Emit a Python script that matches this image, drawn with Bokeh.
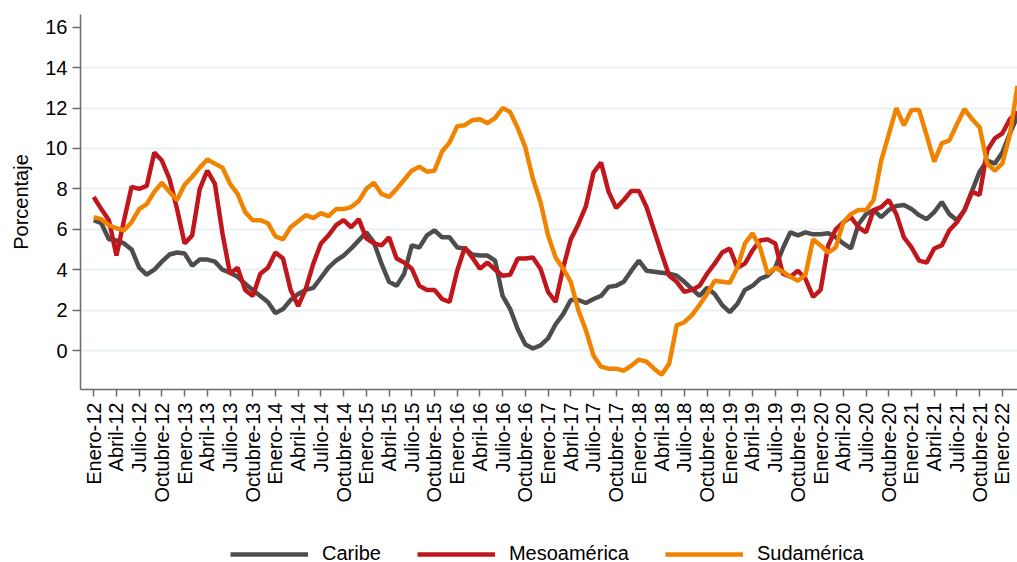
import math
from bokeh.plotting import figure
from bokeh.layouts import column
from bokeh.models import Range1d, FixedTicker, Legend, LegendItem, ColumnDataSource
from bokeh.embed import file_html
from bokeh.resources import INLINE

meses = ["Enero", "Abril", "Julio", "Octubre"]
years = list(range(12, 23))

caribe = [6.45, 6.3, 5.5, 5.45, 5.3, 5.0, 4.1, 3.75, 4.0, 4.4, 4.75, 4.85,
          4.8, 4.2, 4.5, 4.5, 4.4, 4.0, 3.85, 3.65, 3.3, 3.0, 2.7, 2.4,
          1.85, 2.05, 2.5, 2.8, 3.0, 3.1, 3.6, 4.1, 4.45, 4.7, 5.05, 5.45,
          5.85, 5.35, 4.3, 3.4, 3.2, 3.8, 5.2, 5.1, 5.7, 5.95, 5.6, 5.6,
          5.1, 5.05, 4.75, 4.7, 4.7, 4.45, 2.7, 2.05, 1.05, 0.3, 0.1, 0.25,
          0.6, 1.3, 1.8, 2.5, 2.5, 2.35, 2.55, 2.7, 3.15, 3.2, 3.4, 3.95,
          4.45, 3.95, 3.9, 3.85, 3.8, 3.7, 3.4, 3.05, 2.7, 3.1, 2.8, 2.25,
          1.9, 2.3, 3.0, 3.2, 3.55, 3.7, 4.1, 5.05, 5.85, 5.7, 5.85, 5.75,
          5.75, 5.8, 5.6, 5.3, 5.05, 6.25, 6.75, 6.95, 6.6, 6.95, 7.15, 7.2,
          7.0, 6.7, 6.5, 6.85, 7.35, 6.75, 6.45, 6.95, 7.9, 8.85, 9.4, 9.25,
          9.8, 10.75, 11.6]

mesoamerica = [7.6, 7.0, 6.45, 4.7, 6.45, 8.1, 8.0, 8.15, 9.8, 9.4, 8.5, 7.0,
               5.3, 5.7, 8.0, 8.9, 8.25, 5.8, 3.8, 4.1, 3.0, 2.7, 3.8, 4.1,
               4.85, 4.55, 3.0, 2.2, 3.05, 4.3, 5.3, 5.7, 6.2, 6.45, 6.1, 6.5,
               5.55, 5.3, 5.2, 5.6, 4.55, 4.35, 4.05, 3.2, 3.0, 3.0, 2.55, 2.4,
               3.95, 5.1, 4.6, 4.05, 4.35, 4.0, 3.7, 3.75, 4.55, 4.55, 4.6, 4.05,
               2.9, 2.4, 4.1, 5.5, 6.25, 7.15, 8.8, 9.3, 7.85, 7.05, 7.45, 7.9,
               7.9, 7.1, 5.95, 4.8, 3.7, 3.4, 2.9, 3.0, 3.2, 3.8, 4.3, 4.85,
               5.05, 4.1, 4.3, 4.95, 5.45, 5.5, 5.3, 3.8, 3.65, 3.95, 3.55, 2.65,
               3.0, 5.2, 6.0, 6.35, 6.6, 6.1, 5.85, 6.95, 7.1, 7.45, 6.75, 5.6,
               5.1, 4.45, 4.35, 5.05, 5.2, 5.95, 6.35, 6.95, 7.85, 7.7, 9.9, 10.5,
               10.75, 11.45, 11.8]

sudamerica = [6.6, 6.5, 6.2, 6.05, 5.95, 6.35, 7.0, 7.25, 7.85, 8.3, 7.85, 7.45,
              8.2, 8.6, 9.05, 9.45, 9.25, 9.05, 8.25, 7.75, 6.85, 6.45, 6.45, 6.3,
              5.65, 5.5, 6.1, 6.4, 6.7, 6.55, 6.8, 6.65, 7.0, 7.0, 7.1, 7.4,
              8.0, 8.3, 7.75, 7.6, 8.0, 8.45, 8.9, 9.1, 8.85, 8.9, 9.85, 10.3,
              11.1, 11.15, 11.4, 11.45, 11.25, 11.5, 12.0, 11.8, 11.0, 10.05, 8.5, 7.35,
              5.7, 4.6, 4.05, 3.4, 2.0, 1.0, -0.25, -0.8, -0.9, -0.9, -1.0, -0.75,
              -0.45, -0.55, -0.9, -1.2, -0.65, 1.25, 1.4, 1.75, 2.25, 2.8, 3.45, 3.4,
              3.35, 4.1, 5.3, 5.8, 5.1, 3.8, 4.1, 3.9, 3.65, 3.45, 3.75, 5.5,
              5.2, 4.85, 5.1, 6.35, 6.75, 6.95, 6.95, 7.45, 9.4, 10.7, 12.0, 11.15,
              11.9, 11.9, 10.65, 9.35, 10.25, 10.4, 11.2, 11.95, 11.45, 11.05, 9.25, 8.9,
              9.25, 10.7, 13.1]

series_names = ["Caribe", "Mesoamérica", "Sudamérica"]
series_colors = ["#4d4d4d", "#c0171d", "#f08300"]

month_index = list(range(len(caribe)))

tick_pos = []
tick_lab = {}
for yi, yy in enumerate(years):
    for qi, mname in enumerate(meses):
        m = yi * 12 + qi * 3
        if m <= 120:
            tick_pos.append(m)
            tick_lab[m] = f"{mname}-{yy}"

FONT = "Liberation Sans"

src = ColumnDataSource(dict(m=month_index, c=caribe, me=mesoamerica, s=sudamerica))
cols = ["c", "me", "s"]

p = figure(frame_width=937, frame_height=375, output_backend="svg", toolbar_location=None,
           x_range=Range1d(-1.75, 122), y_range=Range1d(-1.93, 16.63),
           min_border_left=80, min_border_right=0, min_border_top=14,
           min_border_bottom=147)
p.outline_line_color = None
p.background_fill_color = "white"
p.border_fill_color = "white"

for col, colr in zip(cols, series_colors):
    p.line("m", col, source=src, line_color=colr, line_width=4.5)

# x axis
xa = p.xaxis[0]
xa.ticker = FixedTicker(ticks=tick_pos)
xa.major_label_overrides = {k: v for k, v in tick_lab.items()}
xa.major_label_orientation = math.pi / 2
xa.major_label_text_font = FONT
xa.major_label_text_font_size = "20px"
xa.major_label_text_color = "black"
xa.major_tick_out = 7
xa.major_tick_in = 0
xa.minor_tick_out = 0
xa.minor_tick_in = 0
xa.major_label_standoff = 6
xa.axis_line_color = "#6b6b6b"
xa.axis_line_width = 1.5
xa.major_tick_line_color = "#6b6b6b"
xa.major_tick_line_width = 1.5

# y axis
ya = p.yaxis[0]
ya.ticker = FixedTicker(ticks=list(range(0, 17, 2)))
ya.major_label_text_font = FONT
ya.major_label_text_font_size = "20px"
ya.major_label_text_color = "black"
ya.major_tick_out = 8
ya.major_tick_in = 0
ya.minor_tick_out = 0
ya.minor_tick_in = 0
ya.major_label_standoff = 5
ya.axis_line_color = "#6b6b6b"
ya.axis_line_width = 1.5
ya.major_tick_line_color = "#6b6b6b"
ya.major_tick_line_width = 1.5
ya.axis_label = "Porcentaje"
ya.axis_label_text_font = FONT
ya.axis_label_text_font_size = "20px"
ya.axis_label_text_font_style = "normal"
ya.axis_label_text_color = "black"
ya.axis_label_standoff = 10

p.xgrid.visible = False
p.ygrid.ticker = FixedTicker(ticks=list(range(0, 15, 2)))
p.ygrid.grid_line_color = "#e9f1f4"
p.ygrid.grid_line_width = 2

# legend strip (its lines share the data but lie outside this strip's ranges)
pl = figure(width=1017, height=32, output_backend="svg", toolbar_location=None,
            x_range=Range1d(0, 1), y_range=Range1d(1000, 1001),
            x_axis_location=None, y_axis_location=None, min_border=0)
pl.outline_line_color = None
pl.xgrid.visible = False
pl.ygrid.visible = False
leg_renderers = []
for col, colr in zip(cols, series_colors):
    leg_renderers.append(pl.line("m", col, source=src, line_color=colr, line_width=4.5))

legend = Legend(items=[LegendItem(label=n, renderers=[r]) for n, r in zip(series_names, leg_renderers)],
                location=(150, 3), orientation="horizontal",
                padding=0, margin=0, glyph_width=78, glyph_height=20,
                label_height=20, label_standoff=14, spacing=36,
                label_text_font=FONT, label_text_font_size="20px",
                label_text_color="black",
                background_fill_alpha=0, border_line_color=None)
pl.add_layout(legend)

layout = column(p, pl, spacing=0)
open("out.html", "w").write(file_html(layout, INLINE))
